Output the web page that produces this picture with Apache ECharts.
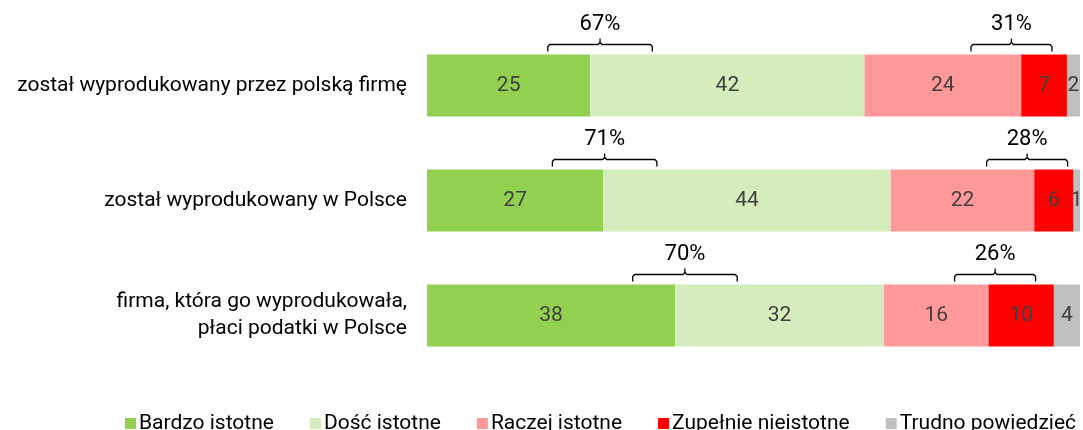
<!DOCTYPE html>
<html>
<head>
    <meta charset="utf-8">
    <style type="text/css">
        *, html, body { margin: 0; padding: 0; }
        html, body, #container { width: 1083px; height: 430px; background: #fff; }
    </style>
    <script type="text/javascript" src="https://cdn.jsdelivr.net/npm/echarts@6/dist/echarts.min.js"></script>
</head>
<body>
<div id="container"></div>
<script type="text/javascript">
    // dane
    let categories = [
        "został wyprodukowany przez polską firmę",
        "został wyprodukowany w Polsce",
        "firma, która go wyprodukowała,\npłaci podatki w Polsce"
    ];
    let seriesNames = ["Bardzo istotne", "Dość istotne", "Raczej istotne", "Zupełnie nieistotne", "Trudno powiedzieć"];
    let bardzo = [25, 27, 38];
    let dosc = [42, 44, 32];
    let raczej = [24, 22, 16];
    let zupelnie = [7, 6, 10];
    let trudno = [2, 1, 4];

    // where the brackets sit (centre on the value axis)
    let posBracketX = [26.5, 27.2, 39.5];
    let negBracketX = [89.5, 91.9, 87.0];

    let colors = ["#92d050", "#d5ecbc", "#ff9999", "#ff0000", "#bfbfbf"];
    let values = [bardzo, dosc, raczej, zupelnie, trudno];
    let font = "Roboto";

    let bracketData = [];
    for (let i = 0; i < categories.length; i++) {
        bracketData.push([posBracketX[i], i, 8, bardzo[i] + dosc[i]]);
        bracketData.push([negBracketX[i], i, 6.2, raczej[i] + zupelnie[i]]);
    }

    let myChart = echarts.init(document.getElementById("container"));
    let barW = 62;

    let series = seriesNames.map(function (name, i) {
        return {
            name: name,
            type: "bar",
            stack: "all",
            barWidth: barW,
            data: values[i],
            itemStyle: { color: colors[i] },
            label: {
                show: true,
                position: "inside",
                color: "#404040",
                fontFamily: font,
                fontSize: 21
            },
            emphasis: { disabled: true }
        };
    });

    series.push({
        type: "custom",
        z: 10,
        silent: true,
        encode: { x: 0, y: 1 },
        data: bracketData,
        renderItem: function (params, api) {
            let c = api.coord([api.value(0), api.value(1)]);
            let hw = api.size([api.value(2), 0])[0];
            let top = c[1] - barW / 2;
            let yl = top - 10;
            let x0 = c[0] - hw, x1 = c[0] + hw;
            return {
                type: "group",
                children: [{
                    type: "polyline",
                    shape: { points: [[x0, top - 3], [x0, yl + 2], [x0 + 2, yl], [c[0] - 2, yl], [c[0], yl - 2], [c[0], yl - 6]] },
                    style: { stroke: "#000", lineWidth: 1.3, fill: null }
                }, {
                    type: "polyline",
                    shape: { points: [[c[0], yl - 2], [c[0] + 2, yl], [x1 - 2, yl], [x1, yl + 2], [x1, top - 3]] },
                    style: { stroke: "#000", lineWidth: 1.3, fill: null }
                }, {
                    type: "text",
                    style: {
                        x: c[0], y: top - 30,
                        text: api.value(3) + "%",
                        align: "center", verticalAlign: "middle",
                        fill: "#000", font: "22px " + font
                    }
                }]
            };
        }
    });

    myChart.setOption({
        animation: false,
        grid: { left: 427, right: 3, top: 28, height: 345 },
        legend: {
            data: seriesNames,
            left: 120,
            top: 408,
            itemWidth: 11,
            itemHeight: 11,
            itemGap: 36,
            icon: "rect",
            textStyle: { fontFamily: font, fontSize: 21, color: "#000", padding: [0, 0, 0, -2] }
        },
        xAxis: {
            type: "value",
            min: 0,
            max: 100,
            show: false
        },
        yAxis: {
            type: "category",
            inverse: true,
            data: categories,
            axisLine: { show: false },
            axisTick: { show: false },
            splitLine: { show: false },
            axisLabel: {
                margin: 20,
                color: "#000",
                fontFamily: font,
                fontSize: 21,
                lineHeight: 27,
                align: "right"
            }
        },
        series: series
    });
</script>
</body>
</html>
